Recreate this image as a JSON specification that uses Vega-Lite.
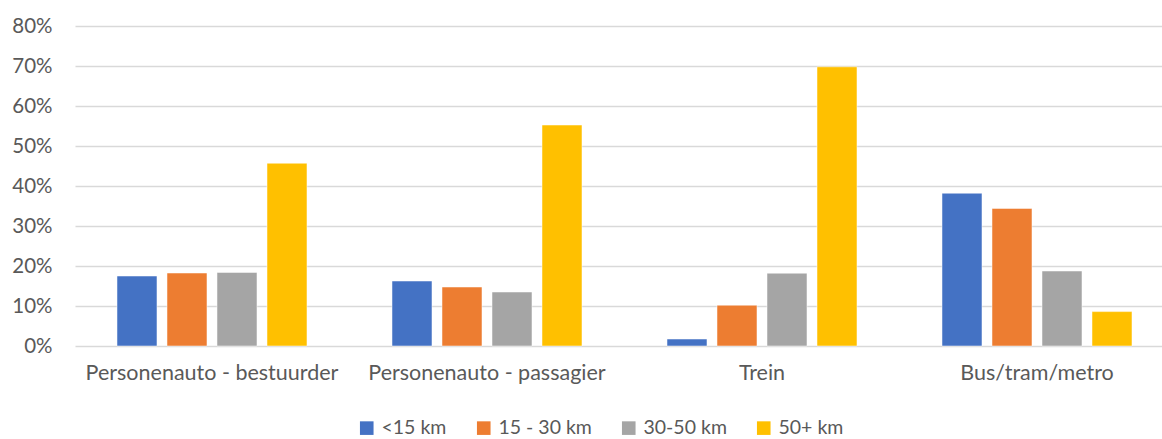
{
  "$schema": "https://vega.github.io/schema/vega-lite/v6.json",
  "autosize": "none",
  "width": 1087,
  "height": 320,
  "padding": {"left": 75, "top": 26, "right": 0, "bottom": 93},
  "background": "white",
  "config": {
    "view": {"stroke": null},
    "font": "Lato",
    "axis": {"labelFont": "Lato", "labelColor": "#595959", "labelFontSize": 20.5},
    "legend": {"labelFont": "Lato"}
  },
  "data": {
    "values": [
      {"mode": "Personenauto - bestuurder", "distance": "<15 km", "share": 17.5},
      {"mode": "Personenauto - bestuurder", "distance": "15 - 30 km", "share": 18.25},
      {"mode": "Personenauto - bestuurder", "distance": "30-50 km", "share": 18.4},
      {"mode": "Personenauto - bestuurder", "distance": "50+ km", "share": 45.7},
      {"mode": "Personenauto - passagier", "distance": "<15 km", "share": 16.25},
      {"mode": "Personenauto - passagier", "distance": "15 - 30 km", "share": 14.75},
      {"mode": "Personenauto - passagier", "distance": "30-50 km", "share": 13.5},
      {"mode": "Personenauto - passagier", "distance": "50+ km", "share": 55.25},
      {"mode": "Trein", "distance": "<15 km", "share": 1.75},
      {"mode": "Trein", "distance": "15 - 30 km", "share": 10.2},
      {"mode": "Trein", "distance": "30-50 km", "share": 18.2},
      {"mode": "Trein", "distance": "50+ km", "share": 69.8},
      {"mode": "Bus/tram/metro", "distance": "<15 km", "share": 38.2},
      {"mode": "Bus/tram/metro", "distance": "15 - 30 km", "share": 34.4},
      {"mode": "Bus/tram/metro", "distance": "30-50 km", "share": 18.75},
      {"mode": "Bus/tram/metro", "distance": "50+ km", "share": 8.6}
    ]
  },
  "mark": {"type": "bar", "stroke": "#ffffff", "strokeOpacity": 0.5, "strokeWidth": 1},
  "encoding": {
    "x": {
      "field": "mode",
      "type": "nominal",
      "sort": ["Personenauto - bestuurder", "Personenauto - passagier", "Trein", "Bus/tram/metro"],
      "scale": {"paddingInner": 0.30909, "paddingOuter": 0.1309, "align": 0.5833},
      "axis": {"title": null, "labelAngle": 0, "ticks": false, "domain": false, "labelPadding": 16, "labelBaseline": "top", "labelLimit": 0, "labelFontSize": 21.5}
    },
    "xOffset": {
      "field": "distance",
      "type": "nominal",
      "sort": ["<15 km", "15 - 30 km", "30-50 km", "50+ km"],
      "scale": {"paddingInner": 0.2, "paddingOuter": 0}
    },
    "y": {
      "field": "share",
      "type": "quantitative",
      "scale": {"domain": [0, 80], "nice": false},
      "axis": {
        "title": null,
        "values": [0, 10, 20, 30, 40, 50, 60, 70, 80],
        "labelExpr": "datum.value + '%'",
        "ticks": false,
        "domain": false,
        "labelPadding": 23,
        "grid": true,
        "gridColor": "#d9d9d9",
        "gridWidth": 1.5
      }
    },
    "color": {
      "field": "distance",
      "type": "nominal",
      "sort": ["<15 km", "15 - 30 km", "30-50 km", "50+ km"],
      "scale": {
        "domain": ["<15 km", "15 - 30 km", "30-50 km", "50+ km"],
        "range": ["#4472C4", "#ED7D31", "#A5A5A5", "#FFC000"]
      },
      "legend": {
        "title": null,
        "orient": "none",
        "legendX": 282,
        "legendY": 392,
        "direction": "horizontal",
        "symbolType": "square",
        "symbolSize": 185,
        "symbolStrokeWidth": 0,
        "labelFontSize": 19.5,
        "labelColor": "#595959",
        "labelOffset": 5,
        "columnPadding": 27
      }
    }
  }
}
